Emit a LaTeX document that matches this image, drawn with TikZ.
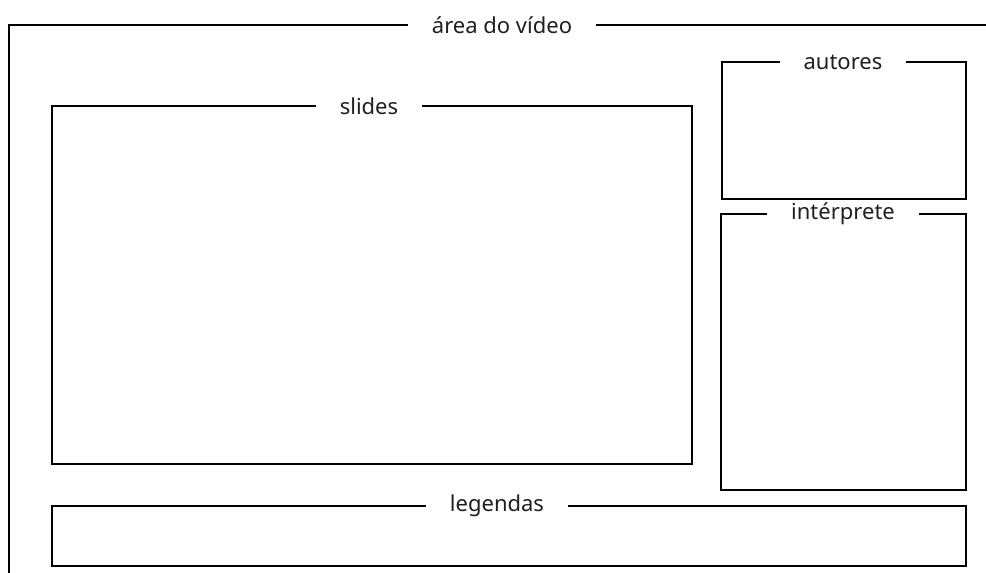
\documentclass[tikz,border=0pt]{standalone}
\usepackage{fontspec}
\setmainfont{Noto Sans}
\begin{document}
\begin{tikzpicture}[x=0.75pt,y=-0.75pt,
  frame/.style={draw=black,line width=1.5pt},
  title/.style={inner xsep=18pt,inner ysep=0pt,outer sep=0pt,text=black!88,font=\fontsize{16.5pt}{19pt}\selectfont}]
\useasboundingbox (0,0) rectangle (986,572);
% labels sit on the top edge of each frame; the frame stops at either side
\node[title] (video) at (502,25) {área do vídeo};
\node[title] (slides) at (369,106) {slides};
\node[title] (autores) at (843,62) {autores};
\node[title] (interp) at (843,214) {intérprete};
\node[title] (legendas) at (497,506) {legendas};
% outer video area: only the top and left edges fall inside the page
\draw[frame] (video.west) -- (9,25) -- (9,600);
\draw[frame] (video.east) -- (1000,25);
% slides
\draw[frame] (slides.east) -- (692,106) -- (692,464) -- (52,464) -- (52,106) -- (slides.west);
% authors
\draw[frame] (autores.east) -- (966,62) -- (966,199) -- (722,199) -- (722,62) -- (autores.west);
% interpreter
\draw[frame] (interp.east) -- (966,214) -- (966,490) -- (721,490) -- (721,214) -- (interp.west);
% captions
\draw[frame] (legendas.east) -- (966,506) -- (966,566) -- (52,566) -- (52,506) -- (legendas.west);
\end{tikzpicture}
\end{document}
